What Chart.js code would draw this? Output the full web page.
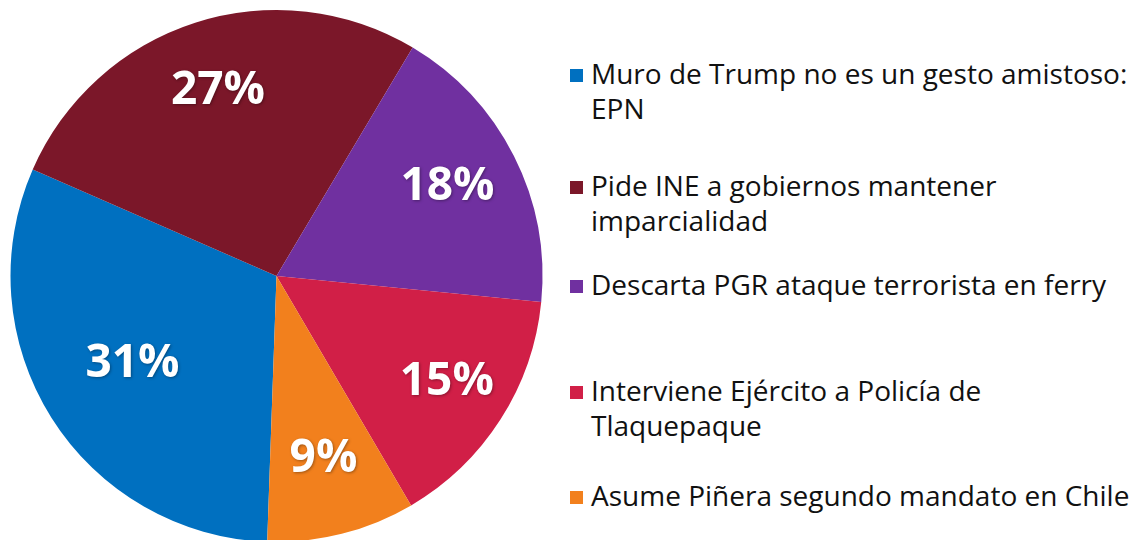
<!DOCTYPE html>
<html lang="es">
<head>
    <meta charset="UTF-8">
    <title>Noticias</title>
    <script src="https://cdn.jsdelivr.net/npm/chart.js"></script>
    <style>
        html, body { margin: 0; padding: 0; background: #fff; overflow: hidden; }
        #wrap { position: absolute; left: 0; top: 0; width: 553px; height: 552px; }
        #legend { position: absolute; left: 570px; top: 0; width: 562px; margin: 0; padding: 0; list-style: none;
                  font-family: "Open Sans", sans-serif; font-size: 28px; line-height: 35px; color: #111; }
        #legend li { position: relative; padding-left: 21px; width: 541px; }
        #legend li span.box { position: absolute; left: 0; top: 13px; width: 13px; height: 13px; }
    </style>
</head>
<body>
    <div id="wrap"><canvas id="pieChart"></canvas></div>
    <ul id="legend"></ul>
    <script>
// datos
const labels = [
    'Muro de Trump no es un gesto amistoso: EPN',
    'Pide INE a gobiernos mantener imparcialidad',
    'Descarta PGR ataque terrorista en ferry',
    'Interviene Ejército a Policía de Tlaquepaque',
    'Asume Piñera segundo mandato en Chile'
];
const values = [31, 27, 18, 15, 9];
const colors = ['#0070C0', '#7B1729', '#7030A0', '#D11F47', '#F2801D'];

// how far out each % label sits (fraction of radius)
const labelRadius = [0.64, 0.72, 0.72, 0.76, 0.72];
// top of each legend entry
const legendTops = [56, 168, 267, 373, 478];

// draws the percent labels inside the slices
const pctLabels = {
    id: 'pctLabels',
    afterDatasetsDraw(chart) {
        const ctx = chart.ctx;
        const meta = chart.getDatasetMeta(0);
        const total = values.reduce((a, b) => a + b, 0);
        ctx.save();
        ctx.fillStyle = '#fff';
        ctx.font = 'bold 46px "Open Sans", sans-serif';
        ctx.textAlign = 'center';
        ctx.textBaseline = 'middle';
        ctx.shadowColor = 'rgba(0,0,0,0.35)';
        ctx.shadowBlur = 3;
        ctx.shadowOffsetX = 1;
        ctx.shadowOffsetY = 1;
        meta.data.forEach((arc, i) => {
            const p = arc.getProps(['x', 'y', 'startAngle', 'endAngle', 'outerRadius'], true);
            const mid = (p.startAngle + p.endAngle) / 2;
            const r = p.outerRadius * labelRadius[i];
            const pct = Math.round(values[i] / total * 100) + '%';
            ctx.fillText(pct, p.x + Math.cos(mid) * r, p.y + Math.sin(mid) * r - 3);
        });
        ctx.restore();
    }
};

const chart = new Chart(document.getElementById('pieChart'), {
    type: 'pie',
    data: {
        labels: labels,
        datasets: [{
            data: values,
            backgroundColor: colors,
            borderWidth: 0
        }]
    },
    options: {
        responsive: true,
        maintainAspectRatio: false,
        animation: false,
        rotation: 182,
        layout: { padding: 10 },
        plugins: {
            legend: { display: false },
            tooltip: { enabled: false }
        }
    },
    plugins: [pctLabels]
});

// html legend so long names can wrap
const items = chart.options.plugins.legend.labels.generateLabels(chart);
const ul = document.getElementById('legend');
items.forEach((item, i) => {
    const li = document.createElement('li');
    li.style.position = 'absolute';
    li.style.top = legendTops[i] + 'px';
    const box = document.createElement('span');
    box.className = 'box';
    box.style.background = item.fillStyle;
    li.appendChild(box);
    li.appendChild(document.createTextNode(item.text));
    ul.appendChild(li);
});
    </script>
</body>
</html>
